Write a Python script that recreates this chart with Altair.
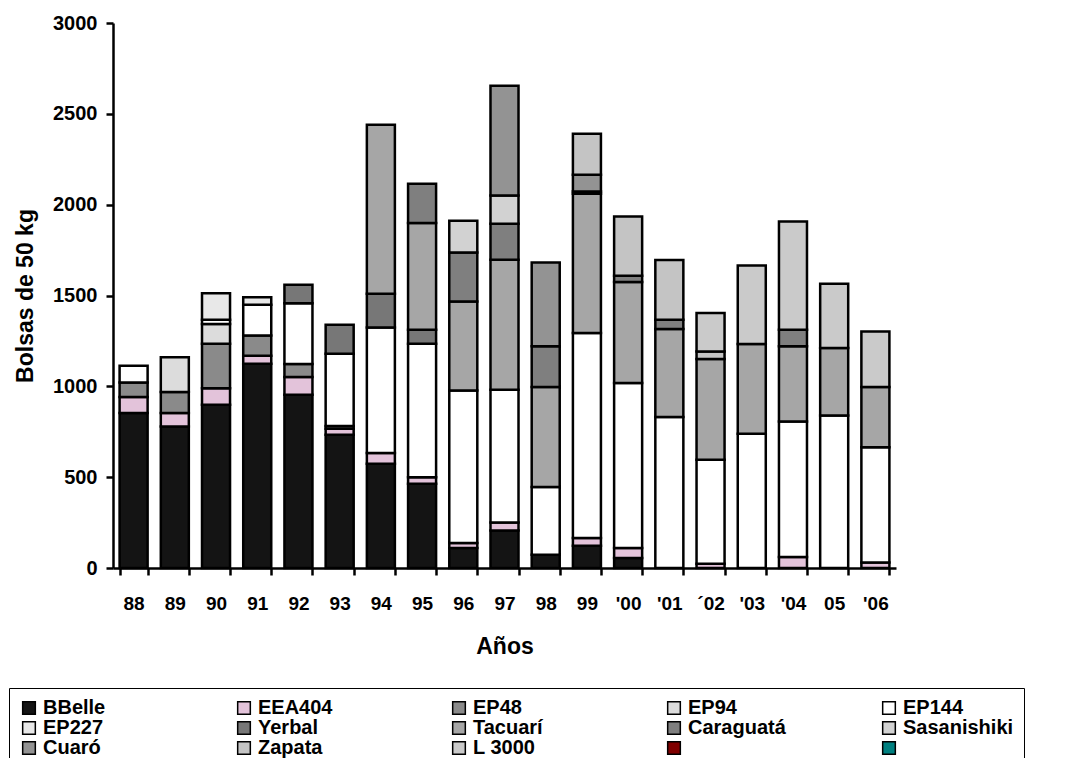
import altair as alt
import pandas as pd

years = ["88", "89", "90", "91", "92", "93", "94", "95", "96", "97", "98", "99",
         "'00", "'01", "´02", "'03", "'04", "05", "'06"]

varieties = ["BBelle", "EEA404", "EP48", "EP94", "EP144", "EP227", "Yerbal",
             "Tacuarí", "Caraguatá", "Sasanishiki", "Cuaró", "Zapata", "L 3000",
             " ", "  "]
colors = ["#141414", "#e3c3da", "#8a8a8a", "#dcdcdc", "#ffffff", "#e8e8e8",
          "#777777", "#a6a6a6", "#7f7f7f", "#d2d2d2", "#939393", "#c4c4c4",
          "#cacaca", "#800000", "#008080"]

bbelle = [853, 779, 899, 1124, 954, 734, 574, 464, 110, 207, 73, 123, 55, 0, 0, 0, 0, 0, 0]
eea404 = [88, 74, 91, 44, 97, 33, 59, 35, 28, 44, 0, 42, 55, 0, 24, 0, 60, 0, 30]
ep48 = [80, 116, 244, 112, 72, 15, 0, 0, 0, 0, 0, 0, 0, 0, 0, 0, 0, 0, 0]
ep94 = [0, 191, 109, 0, 0, 0, 0, 0, 0, 0, 0, 0, 0, 0, 0, 0, 0, 0, 0]
ep144 = [92, 0, 23, 169, 335, 397, 691, 735, 839, 730, 373, 1128, 908, 831, 572, 739, 747, 840, 634]
ep227 = [0, 0, 147, 42, 0, 0, 0, 0, 0, 0, 0, 0, 0, 0, 0, 0, 0, 0, 0]
yerbal = [0, 0, 0, 0, 101, 160, 186, 78, 0, 0, 0, 0, 0, 0, 0, 0, 0, 0, 0]
tacuari = [0, 0, 0, 0, 0, 0, 930, 587, 490, 716, 550, 767, 556, 484, 554, 494, 413, 371, 332]
caraguata = [0, 0, 0, 0, 0, 0, 0, 216, 270, 198, 224, 13, 35, 52, 0, 0, 91, 0, 0]
sasanishiki = [0, 0, 0, 0, 0, 0, 0, 0, 174, 156, 0, 0, 0, 0, 0, 0, 0, 0, 0]
cuaro = [0, 0, 0, 0, 0, 0, 0, 0, 0, 603, 462, 92, 0, 0, 0, 0, 0, 0, 0]
zapata = [0, 0, 0, 0, 0, 0, 0, 0, 0, 0, 0, 225, 326, 328, 42, 0, 0, 0, 0]
l3000 = [0, 0, 0, 0, 0, 0, 0, 0, 0, 0, 0, 0, 0, 0, 211, 432, 596, 354, 306]

series = [bbelle, eea404, ep48, ep94, ep144, ep227, yerbal, tacuari, caraguata,
          sasanishiki, cuaro, zapata, l3000]

rows = []
for idx, (name, vals) in enumerate(zip(varieties, series)):
    for y, v in zip(years, vals):
        if v > 0:
            rows.append({"year": y, "variety": name, "value": v, "idx": idx})
df = pd.DataFrame(rows)

FONT = "Liberation Sans"

chart = alt.Chart(df).mark_bar(stroke="black", strokeWidth=2.5).encode(
    x=alt.X("year:N", sort=years,
            scale=alt.Scale(paddingInner=0.32, paddingOuter=0.16),
            axis=alt.Axis(title="Años", tickBand="extent", labelAngle=0,
                          labelFont=FONT, labelFontSize=19, labelFontWeight="bold",
                          labelColor="black", labelPadding=19,
                          titleFont=FONT, titleFontSize=23, titleFontWeight="bold",
                          titleColor="black", titlePadding=22,
                          domainColor="black", domainWidth=2.5,
                          tickColor="black", tickWidth=2.5, tickSize=7)),
    y=alt.Y("value:Q", stack="zero",
            scale=alt.Scale(domain=[0, 3000], nice=False),
            axis=alt.Axis(title="Bolsas de 50 kg", values=[0, 500, 1000, 1500, 2000, 2500, 3000],
                          format="d", grid=False,
                          labelFont=FONT, labelFontSize=20, labelFontWeight="bold",
                          labelColor="black", labelPadding=9,
                          titleFont=FONT, titleFontSize=23, titleFontWeight="bold",
                          titleColor="black", titlePadding=15,
                          domainColor="black", domainWidth=2.5,
                          tickColor="black", tickWidth=2.5, tickSize=7)),
    fill=alt.Fill("variety:N",
                  scale=alt.Scale(domain=varieties, range=colors),
                  legend=alt.Legend(title=None, orient="none", legendX=-104, legendY=665,
                                    columns=5, direction="horizontal", gridAlign="all",
                                    columnPadding=80, rowPadding=-2,
                                    symbolType="square", symbolSize=160,
                                    symbolStrokeColor="black", symbolStrokeWidth=1.5,
                                    labelFont=FONT, labelFontSize=20, labelFontWeight="bold",
                                    labelColor="black", labelOffset=4, labelLimit=300,
                                    strokeColor="black", fillColor="white", padding=10)),
    order=alt.Order("idx:Q", sort="ascending"),
).properties(
    width=783, height=545,
    autosize=alt.AutoSizeParams(type="none"),
    padding={"left": 105, "top": 15, "right": 169, "bottom": 190},
).configure_view(stroke=None)

chart.save("out.html", embed_options={"renderer": "svg", "actions": False})
